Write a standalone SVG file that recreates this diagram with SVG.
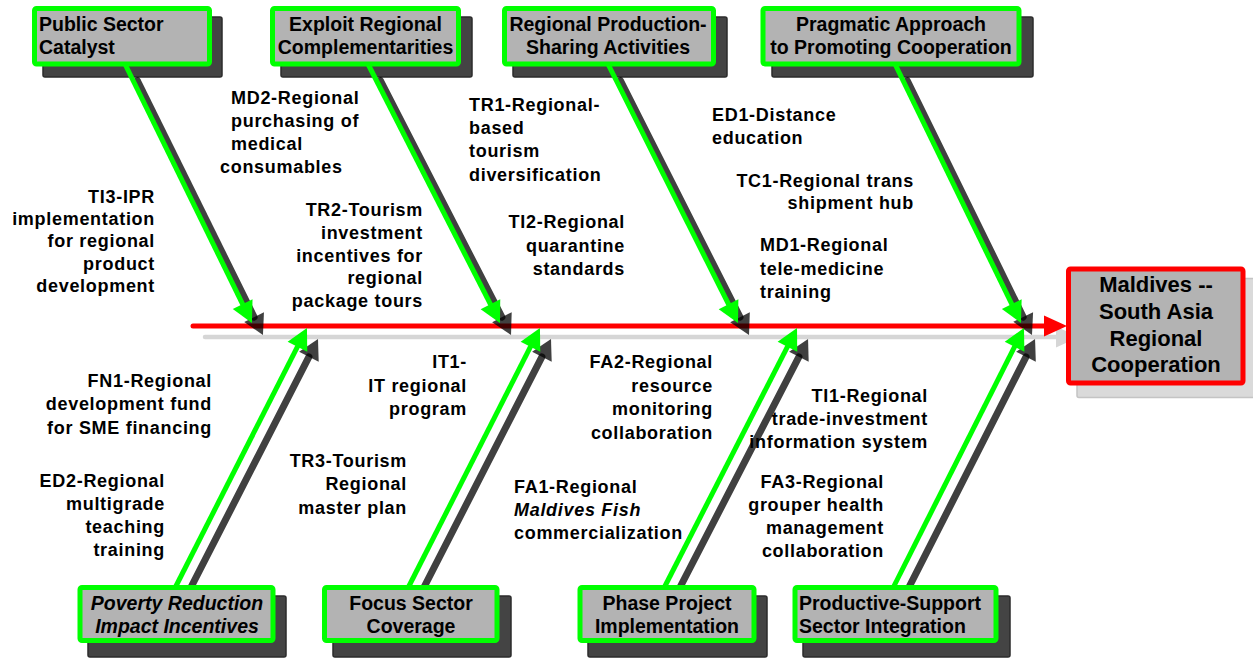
<svg xmlns="http://www.w3.org/2000/svg" width="1253" height="658" viewBox="0 0 1253 658">
<style>
text{font-family:"Liberation Sans",Arial,sans-serif;font-weight:bold;fill:#000}
.bt{font-size:19.5px}
.lb{font-size:18px;letter-spacing:0.7px}
.r{text-anchor:end}
.c{text-anchor:middle}
.it{font-style:italic}
.gbox{fill:#b3b3b3;stroke:#00ff00;stroke-width:5}
.sbox{fill:#444;stroke:#2b2b2b;stroke-width:1.5}
.gl{stroke:#00ff00;stroke-width:5;fill:none;marker-end:url(#ag)}
.dl{stroke:#000;stroke-opacity:0.75;stroke-width:7;fill:none;stroke-linecap:round;marker-end:url(#ad)}
</style>
<defs>
<marker id="ag" markerUnits="userSpaceOnUse" orient="auto" overflow="visible" markerWidth="1" markerHeight="1" refX="0" refY="0"><path d="M-1,-11 L20,0 L-1,11 Z" fill="#00ff00"/></marker>
<marker id="ad" markerUnits="userSpaceOnUse" orient="auto" overflow="visible" markerWidth="1" markerHeight="1" refX="0" refY="0"><path d="M0,-11 L20,0 L0,11 Z" fill="#000" fill-opacity="0.75"/></marker>
<marker id="ar" markerUnits="userSpaceOnUse" orient="auto" overflow="visible" markerWidth="1" markerHeight="1" refX="0" refY="0"><path d="M-1,-10.5 L22,0 L-1,10.5 Z" fill="#ff0000"/></marker>
<marker id="agr" markerUnits="userSpaceOnUse" orient="auto" overflow="visible" markerWidth="1" markerHeight="1" refX="0" refY="0"><path d="M-1,-10.5 L22,0 L-1,10.5 Z" fill="#d6d6d6"/></marker>
</defs>

<g id="box-shadows">
<rect class="sbox" x="43" y="17" width="179" height="60" rx="2"/>
<rect class="sbox" x="281" y="17" width="191" height="60" rx="2"/>
<rect class="sbox" x="513" y="17" width="214" height="60" rx="2"/>
<rect class="sbox" x="772" y="17" width="261" height="60" rx="2"/>
<rect class="sbox" x="88" y="596" width="198" height="61" rx="2"/>
<rect class="sbox" x="333" y="596" width="178" height="61" rx="2"/>
<rect class="sbox" x="588" y="596" width="179" height="61" rx="2"/>
<rect class="sbox" x="803" y="596" width="207" height="61" rx="2"/>
</g>

<g id="connectors">
<line x1="205" y1="337" x2="1057" y2="337" stroke="#d6d6d6" stroke-width="4.5" stroke-linecap="round" marker-end="url(#agr)"/>
<line x1="193" y1="326" x2="1045" y2="326" stroke="#ff0000" stroke-width="5" stroke-linecap="round" marker-end="url(#ar)"/>
<line class="dl" x1="137.4" y1="80.7" x2="254.1" y2="317.1"/>
<line class="dl" x1="380.4" y1="80.7" x2="501.9" y2="317.2"/>
<line class="dl" x1="620.4" y1="80.7" x2="740" y2="317.2"/>
<line class="dl" x1="907.3" y1="80.7" x2="1023.2" y2="317"/>
<line class="dl" x1="186" y1="597" x2="308.9" y2="356.8"/>
<line class="dl" x1="419" y1="597" x2="541.9" y2="356.8"/>
<line class="dl" x1="675" y1="597" x2="798.9" y2="356.8"/>
<line class="dl" x1="904" y1="597" x2="1026" y2="356.8"/>
<line class="gl" x1="125" y1="64" x2="243.1" y2="305.1"/>
<line class="gl" x1="368" y1="64" x2="490.9" y2="305.2"/>
<line class="gl" x1="608" y1="64" x2="729" y2="305.2"/>
<line class="gl" x1="895" y1="64" x2="1012.2" y2="305"/>
<line class="gl" x1="175" y1="588" x2="297.9" y2="345.8"/>
<line class="gl" x1="408" y1="588" x2="530.9" y2="345.8"/>
<line class="gl" x1="664" y1="588" x2="787.9" y2="345.8"/>
<line class="gl" x1="893" y1="588" x2="1015" y2="345.8"/>
</g>

<g id="n-public">
<rect class="gbox" x="34.5" y="8.5" width="175" height="55.5" rx="2"/>
<text class="bt" x="39" y="31">Public Sector</text>
<text class="bt" x="39" y="53.5">Catalyst</text>
</g>
<g id="n-exploit">
<rect class="gbox" x="272.5" y="8.5" width="186" height="55.5" rx="2"/>
<text class="bt c" x="365.5" y="31">Exploit Regional</text>
<text class="bt c" x="365.5" y="53.5">Complementarities</text>
</g>
<g id="n-production">
<rect class="gbox" x="504.5" y="8.5" width="209" height="55.5" rx="2"/>
<text class="bt c" x="608" y="31">Regional Production-</text>
<text class="bt c" x="608" y="53.5">Sharing Activities</text>
</g>
<g id="n-pragmatic">
<rect class="gbox" x="763" y="8.5" width="256" height="55.5" rx="2"/>
<text class="bt c" x="891" y="31">Pragmatic Approach</text>
<text class="bt c" x="891" y="53.5">to Promoting Cooperation</text>
</g>
<g id="n-poverty">
<rect class="gbox" x="80" y="587.5" width="193" height="53" rx="2"/>
<text class="bt c it" x="177" y="609.5">Poverty Reduction</text>
<text class="bt c it" x="177" y="633">Impact Incentives</text>
</g>
<g id="n-focus">
<rect class="gbox" x="324.5" y="587.5" width="172.5" height="53" rx="2"/>
<text class="bt c" x="411" y="609.5">Focus Sector</text>
<text class="bt c" x="411" y="633">Coverage</text>
</g>
<g id="n-phase">
<rect class="gbox" x="580" y="587.5" width="174" height="53" rx="2"/>
<text class="bt c" x="667" y="609.5">Phase Project</text>
<text class="bt c" x="667" y="633">Implementation</text>
</g>
<g id="n-productive">
<rect class="gbox" x="795" y="587.5" width="201" height="53" rx="2"/>
<text class="bt" x="799" y="609.5">Productive-Support</text>
<text class="bt" x="799" y="633">Sector Integration</text>
</g>
<g id="n-maldives">
<rect x="1077" y="278.5" width="180" height="119" fill="#dadada" stroke="#c4c4c4" stroke-width="1.5" rx="2"/>
<rect x="1068.5" y="269" width="174.5" height="114" fill="#b3b3b3" stroke="#ff0000" stroke-width="5" rx="2"/>
<text class="c" x="1156" y="292" font-size="22">Maldives --</text>
<text class="c" x="1156" y="319" font-size="22">South Asia</text>
<text class="c" x="1156" y="346" font-size="22">Regional</text>
<text class="c" x="1156" y="372" font-size="22">Cooperation</text>
</g>

<g id="labels">
<text class="lb" x="231" y="104">MD2-Regional</text>
<text class="lb" x="231" y="127">purchasing of</text>
<text class="lb" x="231" y="150">medical</text>
<text class="lb" x="220" y="173">consumables</text>

<text class="lb r" x="155" y="202.5">TI3-IPR</text>
<text class="lb r" x="155" y="225">implementation</text>
<text class="lb r" x="155" y="247">for regional</text>
<text class="lb r" x="155" y="269.5">product</text>
<text class="lb r" x="155" y="292">development</text>

<text class="lb r" x="423" y="215.5">TR2-Tourism</text>
<text class="lb r" x="423" y="238.5">investment</text>
<text class="lb r" x="423" y="261.5">incentives for</text>
<text class="lb r" x="423" y="284">regional</text>
<text class="lb r" x="423" y="307">package tours</text>

<text class="lb" x="469" y="111">TR1-Regional-</text>
<text class="lb" x="469" y="134">based</text>
<text class="lb" x="469" y="157">tourism</text>
<text class="lb" x="469" y="181">diversification</text>

<text class="lb r" x="625" y="228">TI2-Regional</text>
<text class="lb r" x="625" y="252">quarantine</text>
<text class="lb r" x="625" y="275">standards</text>

<text class="lb" x="712" y="121">ED1-Distance</text>
<text class="lb" x="712" y="144">education</text>

<text class="lb r" x="914" y="187">TC1-Regional trans</text>
<text class="lb r" x="914" y="209">shipment hub</text>

<text class="lb" x="760" y="251">MD1-Regional</text>
<text class="lb" x="760" y="275">tele-medicine</text>
<text class="lb" x="760" y="298">training</text>

<text class="lb r" x="212" y="387">FN1-Regional</text>
<text class="lb r" x="212" y="410">development fund</text>
<text class="lb r" x="212" y="434">for SME financing</text>

<text class="lb r" x="165" y="487">ED2-Regional</text>
<text class="lb r" x="165" y="510">multigrade</text>
<text class="lb r" x="165" y="533">teaching</text>
<text class="lb r" x="165" y="556">training</text>

<text class="lb r" x="467" y="368">IT1-</text>
<text class="lb r" x="467" y="392">IT regional</text>
<text class="lb r" x="467" y="415">program</text>

<text class="lb r" x="407" y="467">TR3-Tourism</text>
<text class="lb r" x="407" y="490">Regional</text>
<text class="lb r" x="407" y="514">master plan</text>

<text class="lb r" x="713" y="368">FA2-Regional</text>
<text class="lb r" x="713" y="392">resource</text>
<text class="lb r" x="713" y="415">monitoring</text>
<text class="lb r" x="713" y="439">collaboration</text>

<text class="lb" x="514" y="493">FA1-Regional</text>
<text class="lb it" x="514" y="516">Maldives Fish</text>
<text class="lb" x="514" y="539">commercialization</text>

<text class="lb r" x="928" y="402">TI1-Regional</text>
<text class="lb r" x="928" y="425">trade-investment</text>
<text class="lb r" x="928" y="448">information system</text>

<text class="lb r" x="884" y="488">FA3-Regional</text>
<text class="lb r" x="884" y="511">grouper health</text>
<text class="lb r" x="884" y="534">management</text>
<text class="lb r" x="884" y="557">collaboration</text>
</g>
</svg>
